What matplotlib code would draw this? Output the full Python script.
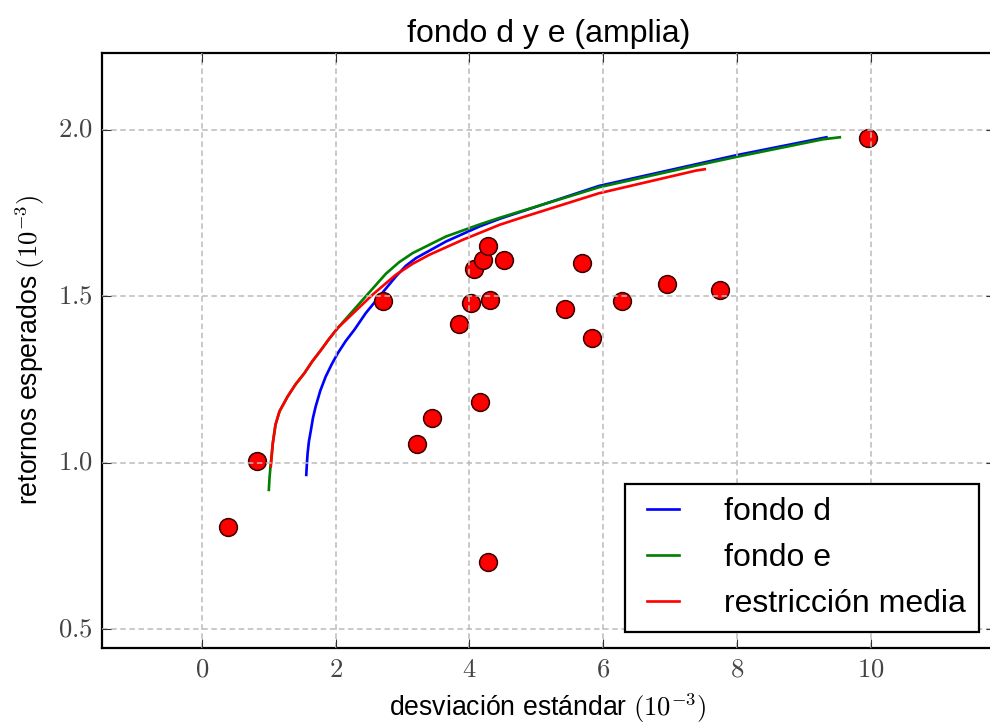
import matplotlib
matplotlib.use('Agg')
import matplotlib.pyplot as plt
from matplotlib.ticker import FuncFormatter

plt.style.use('classic')
plt.rcParams['font.family'] = ['Liberation Sans', 'DejaVu Sans']
plt.rcParams['mathtext.fontset'] = 'cm'

# frontera fondo d
d_std = [1.56, 1.57, 1.58, 1.60, 1.63, 1.66, 1.70, 1.77, 1.85, 1.94, 2.03, 2.15, 2.28, 2.45, 2.65,
         2.90, 3.05, 3.20, 3.65, 4.15, 4.45, 5.94, 7.39, 7.99, 9.34]
d_ret = [0.964, 1.000, 1.029, 1.065, 1.099, 1.135, 1.169, 1.217, 1.259, 1.296, 1.329, 1.366, 1.400, 1.450, 1.499,
         1.560, 1.592, 1.615, 1.665, 1.710, 1.733, 1.832, 1.897, 1.924, 1.978]

# frontera fondo e
e_std = [1.00, 1.01, 1.03, 1.06, 1.10, 1.16, 1.28, 1.40, 1.53, 1.65, 1.78, 1.90, 2.03, 2.40, 2.75, 2.95,
         3.15, 3.65, 4.15, 4.45, 5.94, 7.39, 7.99, 9.29, 9.54]
e_ret = [0.919, 0.955, 1.000, 1.060, 1.115, 1.155, 1.199, 1.236, 1.269, 1.305, 1.339, 1.372, 1.405, 1.489, 1.568, 1.603,
         1.630, 1.680, 1.716, 1.736, 1.828, 1.893, 1.919, 1.972, 1.978]

# frontera con restriccion de media
r_std = [1.03, 1.06, 1.10, 1.16, 1.28, 1.40, 1.53, 1.65, 1.78, 1.90, 2.03, 2.30, 2.55, 2.90, 3.15,
         3.40, 3.90, 4.45, 4.80, 5.94, 7.39, 7.52]
r_ret = [0.990, 1.060, 1.115, 1.155, 1.199, 1.236, 1.269, 1.305, 1.339, 1.372, 1.405, 1.457, 1.505, 1.565, 1.598,
         1.625, 1.670, 1.715, 1.738, 1.810, 1.878, 1.882]

# activos individuales
a_std = [0.39, 0.83, 2.71, 3.22, 3.44, 3.84, 4.03, 4.07, 4.20, 4.28, 4.51, 4.31, 4.16, 4.28,
         5.43, 5.68, 5.84, 6.28, 6.96, 7.75, 9.96]
a_ret = [0.806, 1.006, 1.487, 1.056, 1.134, 1.417, 1.480, 1.583, 1.610, 1.650, 1.608, 1.489, 1.183, 0.703,
         1.463, 1.600, 1.376, 1.487, 1.537, 1.520, 1.975]

fig = plt.figure(figsize=(990/160, 724/160), dpi=160)
ax = fig.add_axes([0.1027, 0.1054, 0.9023, 0.8218])

ax.plot(d_std, d_ret, color='b', lw=1.2, label='fondo d')
ax.plot(e_std, e_ret, color='g', lw=1.2, label='fondo e')
ax.plot(r_std, r_ret, color='r', lw=1.2, label='restricción media')
ax.plot(a_std, a_ret, 'o', color='r', ms=8, mec='#3a0000', mew=0.7)

ax.set_xlim(-1.5, 11.86)
ax.set_ylim(0.445, 2.232)
ax.set_xticks([0, 2, 4, 6, 8, 10])
ax.set_yticks([0.5, 1.0, 1.5, 2.0])
ax.xaxis.set_major_formatter(FuncFormatter(lambda v, p: '$%d$' % v))
ax.yaxis.set_major_formatter(FuncFormatter(lambda v, p: '$%.1f$' % v))
ax.tick_params(colors='#333333', labelcolor='#444444')

ax.grid(True, color='#bbbbbb', linestyle=(0, (2.5, 1.6)), linewidth=0.7)

ax.set_title('fondo d y e (amplia)')
ax.set_xlabel(r'desviación estándar $(10^{-3})$', labelpad=4)
ax.set_ylabel(r'retornos esperados $(10^{-3})$')
ax.legend(loc='lower right', handlelength=1.6, handletextpad=1.1)

fig.savefig('out.png', dpi=160)
